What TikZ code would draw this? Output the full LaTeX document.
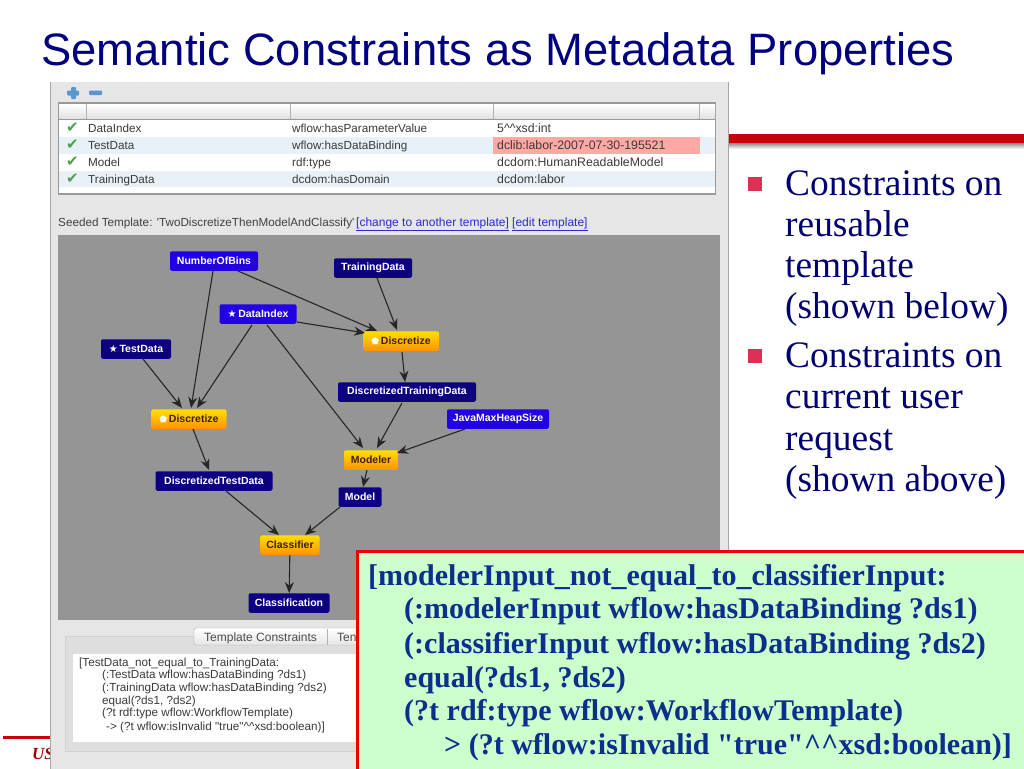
\documentclass[tikz,border=0pt]{standalone}
\usepackage{fontspec}
\setmainfont{Liberation Serif}[Ligatures=TeXOff]
\newfontfamily\sansf{Liberation Sans}
\usetikzlibrary{arrows.meta,shadings,calc}
\definecolor{titleblue}{HTML}{00007F}
\definecolor{deepblue}{HTML}{0D0080}
\definecolor{brightblue}{HTML}{2200E6}
\definecolor{boxblue}{HTML}{0A2F8C}
\definecolor{bulletblue}{HTML}{000070}
\definecolor{slidered}{HTML}{C80008}
\definecolor{squarered}{HTML}{DC3055}
\definecolor{panelgray}{HTML}{E6E6E6}
\definecolor{graphgray}{HTML}{959595}
\definecolor{rowblue}{HTML}{E8F0F8}
\definecolor{rowpink}{HTML}{FFA8A4}
\definecolor{checkgreen}{HTML}{4FA04F}
\definecolor{linkblue}{HTML}{2A2AD0}
\definecolor{mintbg}{HTML}{CCFFCC}
\definecolor{txtgray}{HTML}{3A3A3A}
\definecolor{iconblue}{HTML}{5A96D2}
\tikzset{
  gnode/.style={rounded corners=2pt,inner sep=0pt,minimum height=19.5pt,text=white,font=\sansf\bfseries\fontsize{10.5}{12}\selectfont},
  dark/.style={gnode,fill=deepblue},
  bright/.style={gnode,fill=brightblue},
  comp/.style={gnode,top color=yellow!75!orange,bottom color=orange!85!yellow,text=black!75!orange},
  conn/.style={draw=black!85,line width=1.1pt,-{Stealth[length=11pt,width=9pt]}},
  cell/.style={anchor=base west,inner sep=0pt,text=txtgray,font=\sansf\fontsize{11.7}{13}\selectfont},
  chk/.style={anchor=base west,inner sep=0pt,text=checkgreen,font=\fontspec{DejaVu Sans}\bfseries\fontsize{15}{15}\selectfont},
  bul/.style={anchor=base west,inner sep=0pt,text=bulletblue,font=\fontsize{37.4}{41}\selectfont},
  code/.style={anchor=base west,inner sep=0pt,text=boxblue,font=\bfseries\fontsize{30}{33}\selectfont},
  smallcode/.style={anchor=base west,inner sep=0pt,text=txtgray,font=\sansf\fontsize{11.7}{13}\selectfont},
}
\newcommand{\st}{{\fontspec{DejaVu Sans}\fontsize{10}{10}\selectfont★}\,}
\newcommand{\pent}{{\fontspec{DejaVu Sans}\color{white}\fontsize{9}{9}\selectfont⬟}\,}
\begin{document}
\begin{tikzpicture}[x=1pt,y=-1pt]
\useasboundingbox (0,0) rectangle (1024,768);
\fill[white] (0,0) rectangle (1024,768);
% slide furniture
\shade[top color=black!45,bottom color=white] (728,143) rectangle (1024,149);
\fill[slidered] (728,134) rectangle (1024,143);
\fill[slidered] (3,736) rectangle (50,739);
\node[anchor=base west,inner sep=0pt,text=slidered!80!black,font=\bfseries\itshape\fontsize{17}{20}\selectfont] (us) at (32,759) {US};
\node[anchor=base west,inner sep=0pt,text=titleblue,font=\sansf\fontsize{45.4}{50}\selectfont] (title) at (41,66) {Semantic Constraints as Metadata Properties};
% panel
\fill[panelgray] (50,82) rectangle (728,769);
\draw[black!35] (50,82)--(50,769) (728,82)--(728,769);
% table
\fill[black!40] (58,102) rectangle (716,195);
\fill[white] (59,104) rectangle (715,193);
\shade[top color=white,bottom color=black!12] (59,104) rectangle (715,119);
\draw[black!40] (59,119.5)--(715,119.5);
\draw[black!30] (86,104)--(86,119) (290,104)--(290,119) (493,104)--(493,119) (699,104)--(699,119);
\fill[rowblue] (59,137) rectangle (715,154);
\fill[rowblue] (59,171) rectangle (715,187);
\fill[rowpink] (493,137) rectangle (700,154);
\foreach \y/\a/\b/\c in {132/DataIndex/wflow:hasParameterValue/5\textasciicircum\textasciicircum xsd:int,149/TestData/wflow:hasDataBinding/dclib:labor-2007-07-30-195521,166/Model/rdf:type/dcdom:HumanReadableModel,183/TrainingData/dcdom:hasDomain/dcdom:labor}{
  \node[chk] at (66,\y) {✔};
  \node[cell] at (88,\y) {\a};
  \node[cell] at (292,\y) {\b};
  \node[cell,font=\sansf\fontsize{12.3}{13}\selectfont] at (497,\y) {\c};
}
% plus minus
\fill[iconblue,rounded corners=1pt] (71,87) rectangle (76,99);
\fill[iconblue,rounded corners=1pt] (67,90.5) rectangle (79,95.5);
\fill[iconblue,rounded corners=1pt] (89,90.5) rectangle (102,95);
% seeded
\node[smallcode,text=black!75] (seed) at (58,226) {Seeded Template: 'TwoDiscretizeThenModelAndClassify'};
\node[smallcode,text=linkblue,font=\sansf\fontsize{12}{13}\selectfont] (lnk1) at (356,226) {\underline{[change to another template]}};
\node[smallcode,text=linkblue,font=\sansf\fontsize{12}{13}\selectfont] (lnk2) at (512,226) {\underline{[edit template]}};
% graph
\fill[graphgray] (58,235) rectangle (720,620);
\node[bright,minimum width=88pt] (bins) at (214,261) {NumberOfBins};
\node[dark,minimum width=78pt] (train) at (373,268) {TrainingData};
\node[bright,minimum width=77pt] (idx) at (258,314) {\st DataIndex};
\node[dark,minimum width=70pt] (test) at (136,349) {\st TestData};
\node[comp,minimum width=76pt] (disc1) at (401,341) {\pent Discretize};
\node[dark,minimum width=138pt] (dtrain) at (407,392) {DiscretizedTrainingData};
\node[comp,minimum width=75pt] (disc2) at (189,419) {\pent Discretize};
\node[bright,minimum width=102pt] (java) at (498,419) {JavaMaxHeapSize};
\node[comp,minimum width=54pt] (mod) at (371,460) {Modeler};
\node[dark,minimum width=117pt] (dtest) at (214,481) {DiscretizedTestData};
\node[dark,minimum width=43pt] (model) at (360,497) {Model};
\node[comp,minimum width=59pt] (cls) at (290,545) {Classifier};
\node[dark,minimum width=81pt] (out) at (289,603) {Classification};
\draw[conn] ($(bins)+(-1,10)$) -- ($(disc2)+(2,-11)$);
\draw[conn] ($(bins)+(24,10)$) -- ($(disc1)+(-24,-10)$);
\draw[conn] ($(train)+(4,10)$) -- ($(disc1)+(-4,-11)$);
\draw[conn] ($(idx)+(39,8)$) -- ($(disc1)+(-36,-8)$);
\draw[conn] ($(idx)+(-6,11)$) -- ($(disc2)+(8,-11)$);
\draw[conn] ($(idx)+(9,11)$) -- ($(mod)+(-8,-12)$);
\draw[conn] ($(test)+(7,10)$) -- ($(disc2)+(-7,-11)$);
\draw[conn] ($(disc1)+(1,11)$) -- ($(dtrain)+(-2,-10)$);
\draw[conn] ($(disc2)+(4,10)$) -- ($(dtest)+(-5,-11)$);
\draw[conn] ($(dtrain)+(-5,11)$) -- ($(mod)+(6,-12)$);
\draw[conn] ($(java)+(-33,10)$) -- ($(mod)+(26,-7)$);
\draw[conn] ($(mod)+(-4,10)$) -- ($(model)+(3,-10)$);
\draw[conn] ($(dtest)+(12,10)$) -- ($(cls)+(-11,-10)$);
\draw[conn] ($(model)+(-20,10)$) -- ($(cls)+(15,-10)$);
\draw[conn] (cls) -- (out);
% lower panel
\draw[black!18,fill=black!13] (65,636) rectangle (500,751);
\shade[top color=white,bottom color=black!10,draw=black!35,rounded corners=2pt] (194,628) rectangle (370,645);
\node[smallcode,text=black!70,font=\sansf\fontsize{12}{13}\selectfont] (tab1) at (204,641) {Template Constraints};
\node[smallcode,text=black!70,font=\sansf\fontsize{12}{13}\selectfont] (tab2) at (337,641) {Ten};
\draw[black!30] (327,629)--(327,645);
\fill[white] (73,654) rectangle (400,742);
\foreach \y/\x/\t in {666/79/[TestData\_not\_equal\_to\_TrainingData:,
  678.5/102/(:TestData wflow:hasDataBinding ?ds1),
  691.5/102/(:TrainingData wflow:hasDataBinding ?ds2),
  704.5/102/{equal(?ds1, ?ds2)},
  716.5/102/(?t rdf:type wflow:WorkflowTemplate),
  730/106/{-{}> (?t wflow:isInvalid "true"\textasciicircum\textasciicircum xsd:boolean)]}}{
  \node[smallcode] at (\x,\y) {\t};
}
% right bullets
\fill[squarered] (748,177) rectangle (762,191);
\fill[squarered] (748,349) rectangle (762,363);
\foreach \y/\t in {195/Constraints on,236/reusable,277/template,318/(shown below),367/Constraints on,408/current user,450/request,491/(shown above)}{
  \node[bul] at (785,\y) {\t};
}
% overlay box
\draw[draw=red!95!black,fill=mintbg,line width=3pt] (357,551) rectangle (1026,770);
\foreach \y/\x/\t in {585/368/[modelerInput\_not\_equal\_to\_classifierInput:,
  618/404/(:modelerInput wflow:hasDataBinding ?ds1),
  653/404/(:classifierInput wflow:hasDataBinding ?ds2),
  687/404/{equal(?ds1, ?ds2)},
  720/404/(?t rdf:type wflow:WorkflowTemplate),
  754/444/{> (?t wflow:isInvalid "true"\textasciicircum\textasciicircum xsd:boolean)]}}{
  \node[code] at (\x,\y) {\t};
}
\end{tikzpicture}
\end{document}
